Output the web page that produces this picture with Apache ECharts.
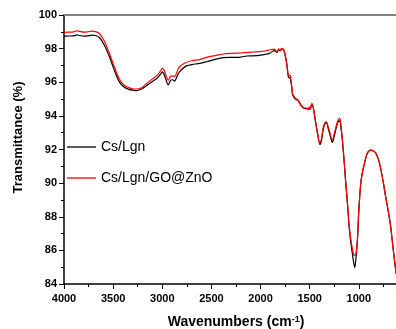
<!DOCTYPE html>
<html>
<head>
<meta charset="utf-8">
<script src="https://cdn.jsdelivr.net/npm/echarts@6/dist/echarts.min.js"></script>
<style>
  html, body { margin: 0; padding: 0; background: #fff; overflow: hidden; width: 396px; height: 329px; }
  #chart { width: 408px; height: 329px; }
</style>
</head>
<body>
<div id="chart"></div>
<script>
// FTIR spectra: wavenumber (cm-1) against transmittance (%)
const wavenumbers = [
  4000, 3950, 3900, 3870, 3840, 3800, 3760, 3720, 3680, 3640, 3590, 3540, 3490, 3440, 3390, 3340,
  3290, 3265, 3215, 3165, 3100, 3050, 3015, 3000, 2985, 2965, 2940, 2915, 2895, 2875, 2850, 2825,
  2760, 2700, 2620, 2550, 2450, 2380, 2290, 2200, 2140, 2080, 2010, 1950, 1910, 1860, 1832, 1815,
  1800, 1785, 1770, 1758, 1734, 1717, 1705, 1697, 1685, 1673, 1646, 1622, 1606, 1588, 1555, 1530,
  1515, 1505, 1495, 1478, 1465, 1454, 1440, 1421, 1397, 1380, 1363, 1345, 1330, 1310, 1295, 1269,
  1250, 1228, 1210, 1194, 1180, 1167, 1150, 1133, 1115, 1099, 1080, 1066, 1052, 1042, 1030, 1015,
  1000, 981, 965, 947, 914, 879, 855, 829, 800, 778, 750, 727, 700, 676, 655, 633, 620
];
const csLgn = [
  98.74, 98.75, 98.76, 98.82, 98.78, 98.74, 98.76, 98.80, 98.78, 98.66, 98.22, 97.55, 96.75, 96.05, 95.72, 95.58,
  95.52, 95.50, 95.58, 95.78, 96.05, 96.25, 96.50, 96.62, 96.50, 96.20, 95.84, 96.12, 96.15, 96.07, 96.35, 96.62,
  96.96, 97.05, 97.12, 97.22, 97.38, 97.46, 97.48, 97.50, 97.56, 97.57, 97.60, 97.66, 97.72, 97.88, 97.78, 97.96,
  97.86, 98.00, 97.95, 97.80, 97.10, 96.30, 96.26, 96.22, 95.80, 95.24, 95.00, 94.92, 94.80, 94.62, 94.44, 94.43,
  94.38, 94.48, 94.38, 94.68, 94.50, 94.15, 93.60, 92.96, 92.30, 92.55, 93.20, 93.55, 93.58, 93.20, 92.90, 92.42,
  92.80, 93.35, 93.65, 93.70, 93.20, 92.50, 91.30, 90.00, 88.70, 87.40, 86.40, 85.80, 85.25, 84.98, 85.50, 86.60,
  88.40, 89.98, 90.60, 91.07, 91.77, 91.96, 91.92, 91.80, 91.40, 90.87, 90.00, 89.18, 88.30, 87.40, 86.30, 85.20, 84.60
];
const csLgnGoZnO = [
  98.97, 98.98, 99.00, 99.06, 99.03, 98.98, 99.00, 99.04, 99.01, 98.90, 98.45, 97.75, 96.95, 96.22, 95.84, 95.68,
  95.60, 95.60, 95.66, 95.90, 96.20, 96.42, 96.70, 96.82, 96.75, 96.45, 96.12, 96.36, 96.38, 96.33, 96.62, 96.92,
  97.17, 97.28, 97.35, 97.48, 97.60, 97.68, 97.72, 97.74, 97.78, 97.80, 97.82, 97.86, 97.92, 97.97, 97.82, 97.98,
  97.90, 98.02, 97.97, 97.84, 97.15, 96.43, 96.42, 96.40, 95.85, 95.30, 95.04, 94.96, 94.84, 94.66, 94.47, 94.46,
  94.42, 94.52, 94.42, 94.75, 94.55, 94.20, 93.65, 93.02, 92.40, 92.65, 93.28, 93.60, 93.65, 93.30, 93.00, 92.56,
  92.95, 93.45, 93.75, 93.85, 93.30, 92.55, 91.35, 90.00, 88.75, 87.50, 86.60, 86.10, 85.75, 85.70, 85.80, 86.60,
  88.40, 89.98, 90.60, 91.07, 91.77, 91.96, 91.92, 91.80, 91.40, 90.87, 90.00, 89.18, 88.30, 87.40, 86.30, 85.20, 84.60
];
const seriesNames = ['Cs/Lgn', 'Cs/Lgn/GO@ZnO'];
const xTicks = { min: 500, max: 4000, step: 500 };
const yTicks = { min: 84, max: 100, step: 2 };

const pairs = (ys) => wavenumbers.map((w, i) => [w, ys[i]]);
const font = 'Arial, "Liberation Sans", sans-serif';
const plain = (v) => String(v);

const chart = echarts.init(document.getElementById('chart'), null, { renderer: 'canvas' });
chart.setOption({
  animation: false,
  backgroundColor: '#ffffff',
  grid: { left: 64, right: 0, top: 15, bottom: 45, containLabel: false, outerBoundsMode: 'none' },
  legend: {
    orient: 'vertical',
    left: 62,
    top: 135,
    icon: 'rect',
    itemWidth: 29,
    itemHeight: 1.3,
    itemGap: 17,
    selectedMode: false,
    textStyle: { fontFamily: font, fontSize: 14, lineHeight: 14, color: '#000' },
    data: seriesNames
  },
  xAxis: [{
    type: 'value',
    inverse: true,
    min: xTicks.min, max: xTicks.max, interval: xTicks.step,
    name: 'Wavenumbers (cm{sup|-1})',
    nameLocation: 'middle',
    nameGap: 31,
    nameTextStyle: {
      fontFamily: font, fontSize: 14, fontWeight: 'bold', color: '#000',
      rich: { sup: { fontFamily: font, fontSize: 9, fontWeight: 'bold', verticalAlign: 'top', padding: [0, 0, 6, 0] } }
    },
    axisLine: { lineStyle: { color: '#000', width: 1.5 } },
    axisTick: { inside: false, length: 5, lineStyle: { color: '#000', width: 1 } },
    minorTick: { show: true, splitNumber: 2, length: 3, lineStyle: { color: '#000', width: 1 } },
    axisLabel: { fontFamily: font, fontSize: 11, fontWeight: 'bold', color: '#000', margin: 9, formatter: plain },
    splitLine: { show: false }
  }, {
    type: 'value',
    position: 'top',
    inverse: true,
    min: xTicks.min, max: xTicks.max,
    axisLine: { lineStyle: { color: '#808080', width: 2 } },
    axisTick: { show: false },
    axisLabel: { show: false },
    splitLine: { show: false }
  }],
  yAxis: {
    type: 'value',
    min: yTicks.min, max: yTicks.max, interval: yTicks.step,
    name: 'Transmittance (%)',
    nameLocation: 'middle',
    nameGap: 39,
    nameTextStyle: { fontFamily: font, fontSize: 13, fontWeight: 'bold', color: '#000', padding: [0, 0, 0, 24] },
    axisLine: { show: true, lineStyle: { color: '#000', width: 1.5 } },
    axisTick: { inside: false, length: 5, lineStyle: { color: '#000', width: 1 } },
    minorTick: { show: true, splitNumber: 2, length: 3, lineStyle: { color: '#000', width: 1 } },
    axisLabel: { fontFamily: font, fontSize: 11, fontWeight: 'bold', color: '#000', margin: 7, formatter: plain },
    splitLine: { show: false }
  },
  series: [{
    name: seriesNames[0],
    type: 'line',
    xAxisIndex: 0,
    data: pairs(csLgn),
    showSymbol: false,
    symbol: 'none',
    smooth: 0.3,
    clip: true,
    lineStyle: { color: '#000000', width: 1.2 },
    itemStyle: { color: '#000000' }
  }, {
    name: seriesNames[1],
    type: 'line',
    xAxisIndex: 0,
    data: pairs(csLgnGoZnO),
    showSymbol: false,
    symbol: 'none',
    smooth: 0.3,
    clip: true,
    lineStyle: { color: '#ff0000', width: 1.2 },
    itemStyle: { color: '#ff0000' }
  }]
});
</script>
</body>
</html>
